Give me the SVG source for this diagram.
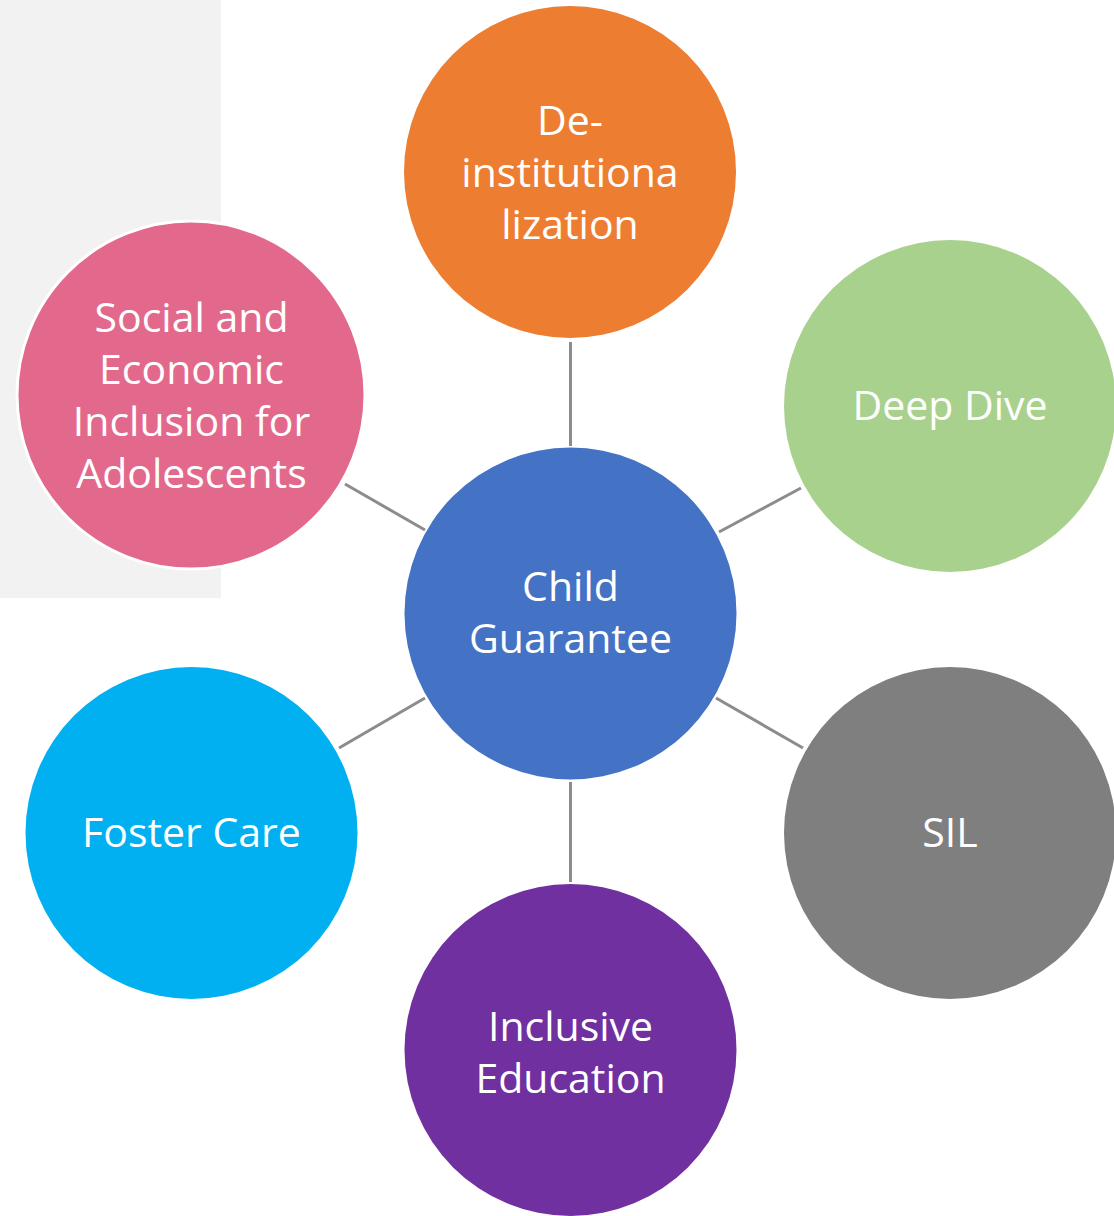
<svg xmlns="http://www.w3.org/2000/svg" width="1114" height="1216" viewBox="0 0 1114 1216">
<style>
.lbl{font-family:"Open Sans","Noto Sans","Liberation Sans",sans-serif;font-size:41px;fill:#ffffff;text-anchor:middle}
.conn line{stroke:#8C8C8C;stroke-width:3}
</style>
<rect x="0" y="0" width="221" height="598" fill="#F2F2F2"/>
<g class="conn" id="connectors">
<line x1="570.5" y1="342" x2="570.5" y2="446"/>
<line x1="719" y1="532" x2="801" y2="488"/>
<line x1="716" y1="698" x2="803" y2="748"/>
<line x1="570.5" y1="782" x2="570.5" y2="882"/>
<line x1="339" y1="748" x2="425" y2="698"/>
<line x1="345" y1="484" x2="425" y2="530"/>
</g>
<g id="node-center">
<circle cx="570.5" cy="613.5" r="166" fill="#4472C4"/>
<text class="lbl" x="570.5" y="601">Child</text>
<text class="lbl" x="570.5" y="653">Guarantee</text>
</g>
<g id="node-deinst">
<circle cx="570" cy="172" r="166" fill="#ED7D31"/>
<text class="lbl" x="570" y="135">De-</text>
<text class="lbl" x="570" y="187">institutiona</text>
<text class="lbl" x="570" y="239">lization</text>
</g>
<g id="node-deepdive">
<circle cx="950" cy="406" r="166" fill="#A9D18E"/>
<text class="lbl" x="950" y="420">Deep Dive</text>
</g>
<g id="node-sil">
<circle cx="950" cy="833" r="166" fill="#7F7F7F"/>
<text class="lbl" x="950" y="847">SIL</text>
</g>
<g id="node-inclusive">
<circle cx="570.5" cy="1050" r="166" fill="#7030A0"/>
<text class="lbl" x="570.5" y="1041">Inclusive</text>
<text class="lbl" x="570.5" y="1093">Education</text>
</g>
<g id="node-foster">
<circle cx="191.5" cy="833" r="166" fill="#00B0F0"/>
<text class="lbl" x="191.5" y="847">Foster Care</text>
</g>
<g id="node-social">
<circle cx="191" cy="395" r="174" fill="#E3698C" stroke="#FFFFFF" stroke-width="3"/>
<text class="lbl" x="191.5" y="332">Social and</text>
<text class="lbl" x="191.5" y="384">Economic</text>
<text class="lbl" x="191.5" y="436">Inclusion for</text>
<text class="lbl" x="191.5" y="488">Adolescents</text>
</g>
</svg>
